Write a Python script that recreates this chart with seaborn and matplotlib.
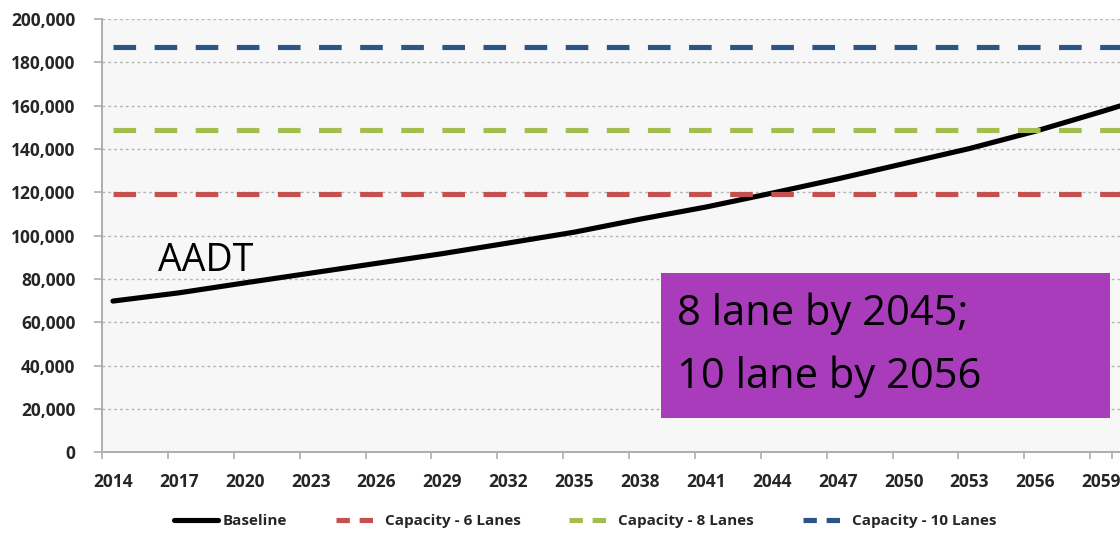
import matplotlib
matplotlib.use("Agg")
import matplotlib.pyplot as plt
from matplotlib.lines import Line2D
from matplotlib.patches import Rectangle
from matplotlib.ticker import FuncFormatter, FixedLocator
import seaborn as sns
import pandas as pd

# Annual average daily traffic forecast (vehicles/day)
years = [2014, 2017, 2020, 2023, 2026, 2029, 2032, 2035, 2038, 2041,
         2044, 2047, 2050, 2053, 2056, 2059, 2060]
baseline = [69800, 73600, 78200, 82700, 87200, 91700, 96600, 101600, 107600,
            113200, 119600, 126200, 133200, 140200, 148200, 157200, 160300]

# Roadway capacities by number of lanes
capacity_labels = ["Capacity - 6 Lanes", "Capacity - 8 Lanes", "Capacity - 10 Lanes"]
capacity_values = [119000, 148800, 187300]
capacity_colors = ["#C4504F", "#A3BD4E", "#2C5487"]

tick_years = list(range(2014, 2060, 3))
y_ticks = list(range(0, 200001, 20000))

sns.set_style("white")
plt.rcParams["font.family"] = ["Open Sans", "DejaVu Sans"]

W, H = 1120, 534
fig = plt.figure(figsize=(W / 100, H / 100), dpi=100)
ax_left, ax_top, ax_bottom = 102, 19, 452.3
ax = fig.add_axes([ax_left / W, (H - ax_bottom) / H, 1 - ax_left / W, (ax_bottom - ax_top) / H])
ax.set_facecolor("#F7F7F7")

df = pd.DataFrame({"Year": years, "AADT": baseline})
lw = 3.7
sns.lineplot(data=df, x="Year", y="AADT", ax=ax, color="black", lw=lw,
             solid_capstyle="round", zorder=3)
for label, value, color in zip(capacity_labels, capacity_values, capacity_colors):
    sns.lineplot(x=years, y=[value] * len(years), ax=ax, color=color, lw=lw,
                 dashes=False, zorder=4)
    ax.lines[-1].set_dashes((22 / 5, 18 / 5))

ax.set_xlim(2013.5, 2013.5 + (W - ax_left) / 21.96)
ax.set_ylim(0, 200000)
ax.set_xlabel("")
ax.set_ylabel("")

# grid
for v in y_ticks[1:]:
    ax.axhline(v, color="#B5B5B5", lw=1.0, ls=(0, (2, 2.2)), zorder=1)

for side in ["top", "right"]:
    ax.spines[side].set_visible(False)
for side in ["left", "bottom"]:
    ax.spines[side].set_color("#ADADAD")
    ax.spines[side].set_linewidth(1.4)

ax.xaxis.set_major_locator(FixedLocator(tick_years))
ax.xaxis.set_minor_locator(FixedLocator([y - 0.5 for y in tick_years] + [2059.5]))
ax.tick_params(axis="x", which="major", length=0, pad=15, labelsize=12.5,
               labelcolor="#262626")
ax.tick_params(axis="x", which="minor", length=5, width=1.2, color="#ADADAD",
               direction="out", bottom=True)
ax.tick_params(axis="y", which="major", length=6, width=1.2, color="#ADADAD",
               direction="out", left=True, pad=13, labelsize=12.5, labelcolor="#262626")
ax.set_yticks(y_ticks)
ax.yaxis.set_major_formatter(FuncFormatter(lambda v, p: f"{int(v):,}"))
for t in ax.get_xticklabels() + ax.get_yticklabels():
    t.set_fontweight("bold")

# legend
handles = [Line2D([], [], color="black", lw=lw)]
for color in capacity_colors:
    handles.append(Line2D([], [], color=color, lw=lw, dashes=(2.6, 1.9)))
fig.legend(handles, ["Baseline"] + capacity_labels, loc="center",
           bbox_to_anchor=(585 / W, (H - 521) / H), ncol=4, frameon=False,
           prop={"family": "Open Sans", "weight": "bold", "size": 11},
           labelcolor="#262626", handlelength=2.9, handletextpad=0.3,
           columnspacing=3.2)

# annotations
fig.text(158 / W, (H - 271) / H, "AADT", fontsize=27, color="black",
         va="baseline", ha="left")
fig.patches.append(Rectangle((661 / W, (H - 418) / H), (1110 - 661) / W, (418 - 273) / H,
                             transform=fig.transFigure, facecolor="#A93CBA",
                             edgecolor="none", zorder=5))
fig.text(677 / W, (H - 325) / H, "8 lane by 2045;", fontsize=30, color="black",
         va="baseline", ha="left", zorder=6)
fig.text(677 / W, (H - 388) / H, "10 lane by 2056", fontsize=30, color="black",
         va="baseline", ha="left", zorder=6)

fig.savefig("out.png", dpi=100)
